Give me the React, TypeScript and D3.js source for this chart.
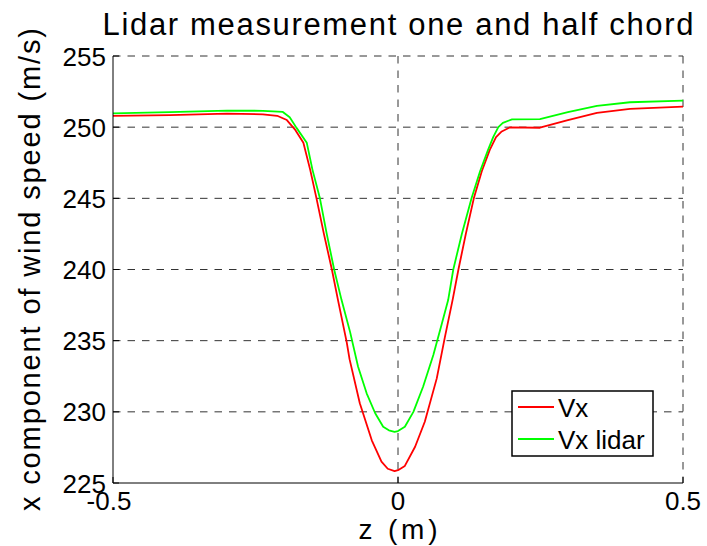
import * as d3 from 'd3'

// Vx (red)
const zVx = [-0.5, -0.4, -0.3, -0.237, -0.212, -0.195, -0.181, -0.166, -0.154, -0.143, -0.13, -0.116, -0.105, -0.09, -0.085,
    -0.067, -0.046, -0.029, -0.018, -0.006, 0, 0.012, 0.03, 0.047, 0.068, 0.082, 0.096, 0.106, 0.119, 0.133, 0.147,
    0.161, 0.172, 0.182, 0.196, 0.249, 0.298, 0.349, 0.407, 0.5]
const vx = [250.8, 250.85, 250.95, 250.9, 250.8, 250.5, 249.85, 248.9, 247.0, 245.0, 242.5, 240.0, 237.8, 234.9, 233.7,
    230.6, 228.0, 226.5, 226.0, 225.84, 225.9, 226.2, 227.55, 229.3, 232.35, 235.2, 237.9, 240.0, 242.5, 245.0, 246.9,
    248.4, 249.3, 249.7, 249.98, 249.96, 250.5, 251.0, 251.28, 251.44]

// Vx lidar (green)
const zLidar = [-0.5, -0.4, -0.3, -0.237, -0.202, -0.19, -0.178, -0.16, -0.15, -0.137, -0.125, -0.112, -0.099, -0.084,
    -0.07, -0.055, -0.04, -0.026, -0.016, -0.006, 0, 0.012, 0.027, 0.044, 0.062, 0.077, 0.088, 0.097, 0.112, 0.129,
    0.144, 0.158, 0.167, 0.176, 0.184, 0.2, 0.249, 0.298, 0.349, 0.407, 0.5]
const vxLidar = [250.97, 251.05, 251.16, 251.15, 251.07, 250.7, 249.95, 248.9, 247.0, 245.0, 242.5, 240.0, 237.85, 235.6,
    233.17, 231.3, 229.9, 228.95, 228.7, 228.6, 228.65, 228.95, 230.0, 231.76, 233.99, 236.2, 237.85, 240.0, 242.5, 245.0,
    246.9, 248.4, 249.3, 250.0, 250.3, 250.55, 250.57, 251.05, 251.5, 251.75, 251.86]

const yTicks = [225, 230, 235, 240, 245, 250, 255]
const xTicks = [-0.5, 0, 0.5]
const xTickLabels = ['-0.5', '0', '0.5']

const W = 707, H = 546
const left = 113, right = 683, top = 56, bottom = 483
const font = 'Liberation Sans, Arial, Helvetica, sans-serif'

export default function App() {
    const x = d3.scaleLinear().domain([-0.5, 0.5]).range([left, right])
    const y = d3.scaleLinear().domain([225, 255]).range([bottom, top])

    const line = d3.line<number>()
        .x(d => d[0])
        .y(d => d[1])

    const redPts = zVx.map((z, i) => [x(z), y(vx[i])])
    const greenPts = zLidar.map((z, i) => [x(z), y(vxLidar[i])])

    return (
        <svg width={W} height={H} style={{position: 'absolute', left: 0, top: 0, background: '#fff'}}
            fontFamily={font}>
            {/* grid */}
            <g stroke="#333" strokeWidth={1} strokeDasharray="7.5,7">
                {yTicks.filter(t => t !== 225).map(t =>
                    <line key={'gy' + t} x1={left} x2={right} y1={y(t)} y2={y(t)} />)}
                {xTicks.filter(t => t !== -0.5).map(t =>
                    <line key={'gx' + t} x1={x(t)} x2={x(t)} y1={top} y2={bottom} />)}
            </g>

            {/* data */}
            <path d={line(redPts as any) || ''} fill="none" stroke="#ff0000" strokeWidth={1.8} strokeLinejoin="round" />
            <path d={line(greenPts as any) || ''} fill="none" stroke="#00ff00" strokeWidth={1.8} strokeLinejoin="round" />

            {/* axes */}
            <line x1={left} x2={left} y1={top} y2={bottom} stroke="#000" strokeWidth={1} />
            <line x1={left} x2={right} y1={bottom} y2={bottom} stroke="#000" strokeWidth={1} />
            {yTicks.map(t =>
                <line key={'ty' + t} x1={left} x2={left + 6} y1={y(t)} y2={y(t)} stroke="#000" />)}
            {xTicks.map(t =>
                <line key={'tx' + t} x1={x(t)} x2={x(t)} y1={bottom} y2={bottom - 6} stroke="#000" />)}

            {/* tick labels */}
            {yTicks.map(t =>
                <text key={'ly' + t} x={left - 7} y={y(t) + 9.5} textAnchor="end" fontSize={26}>{t}</text>)}
            {xTicks.map((t, i) =>
                <text key={'lx' + t} x={x(t) - (t < 0 ? 4 : 0)} y={bottom + 27} textAnchor="middle" fontSize={26}>{xTickLabels[i]}</text>)}

            {/* title and labels */}
            <text x={(left + right) / 2} y={35} textAnchor="middle" fontSize={31} textLength={591}
                lengthAdjust="spacing">Lidar measurement one and half chord</text>
            <text x={(left + right) / 2} y={539} textAnchor="middle" fontSize={28} textLength={79}
                lengthAdjust="spacing">z (m)</text>
            <text transform={`translate(40, ${(top + bottom) / 2}) rotate(-90)`} textAnchor="middle" fontSize={29}
                textLength={483} lengthAdjust="spacing">x component of wind speed (m/s)</text>

            {/* legend */}
            <g>
                <rect x={512} y={391} width={141} height={65} fill="#fff" stroke="#000" strokeWidth={1.5} />
                <line x1={518} x2={554} y1={407} y2={407} stroke="#ff0000" strokeWidth={1.8} />
                <text x={558} y={416.5} fontSize={26}>Vx</text>
                <line x1={518} x2={554} y1={439} y2={439} stroke="#00ff00" strokeWidth={1.8} />
                <text x={558} y={448.5} fontSize={26}>Vx lidar</text>
            </g>
        </svg>
    )
}
